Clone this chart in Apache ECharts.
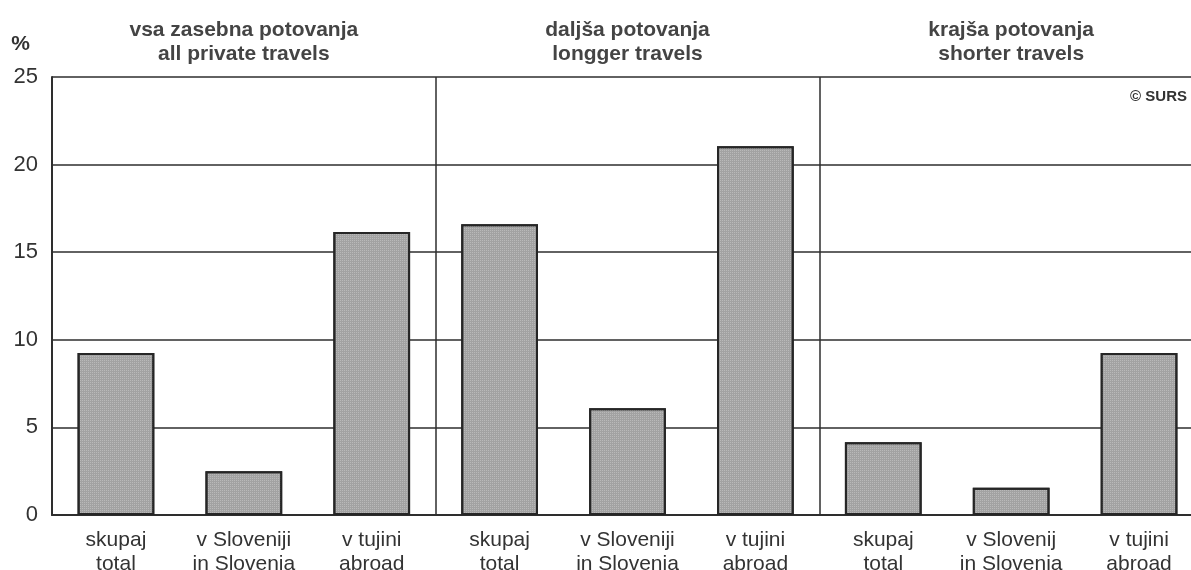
<!DOCTYPE html>
<html>
<head>
<meta charset="utf-8">
<script src="https://cdn.jsdelivr.net/npm/echarts@6/dist/echarts.min.js"></script>
<style>
  html, body { margin: 0; padding: 0; background: #fff; }
  #chart { width: 1191px; height: 570px; }
</style>
</head>
<body>
<div id="chart"></div>
<script>
// travel share by kind of trip (%)
const groups = ['vsa zasebna potovanja\nall private travels', 'daljša potovanja\nlongger travels', 'krajša potovanja\nshorter travels'];
const categories = [
    'skupaj\ntotal', 'v Sloveniji\nin Slovenia', 'v tujini\nabroad',
    'skupaj\ntotal', 'v Sloveniji\nin Slovenia', 'v tujini\nabroad',
    'skupaj\ntotal', 'v Slovenij\nin Slovenia', 'v tujini\nabroad'
];
const values = [9.25, 2.5, 16.15, 16.6, 6.1, 21.05, 4.15, 1.55, 9.25];
const yTicks = [0, 5, 10, 15, 20, 25];

const font = '"Liberation Sans", Arial, sans-serif';
const ink = '#2e2e2e';

const chart = echarts.init(document.getElementById('chart'), null, { renderer: 'canvas' });

chart.setOption({
    backgroundColor: '#ffffff',
    animation: false,
    textStyle: { fontFamily: font },
    grid: { left: 52, right: -12, top: 77, bottom: 55, outerBoundsMode: 'none', containLabel: false },
    xAxis: [{
        type: 'category',
        data: categories,
        axisLine: { lineStyle: { color: ink, width: 2 } },
        axisTick: { show: false },
        axisLabel: {
            interval: 0, margin: 13, color: '#333', fontSize: 21, lineHeight: 24,
            fontFamily: font
        },
        splitLine: {
            show: true,
            interval: (i) => i === 3 || i === 6,
            lineStyle: { color: ink, width: 1.5 }
        }
    }, {
        type: 'category',
        position: 'top',
        data: groups,
        axisLine: { show: false },
        axisTick: { show: false },
        axisLabel: {
            interval: 0, margin: 11, color: '#444', fontSize: 21, fontWeight: 'bold',
            lineHeight: 24, fontFamily: font
        }
    }],
    yAxis: {
        type: 'value',
        min: 0, max: 25, interval: 5,
        name: '%',
        nameLocation: 'end',
        nameGap: 22,
        nameTextStyle: { color: '#333', fontSize: 21, fontWeight: 'bold', align: 'right', padding: [0, 22, 0, 0], fontFamily: font },
        axisLine: { show: true, lineStyle: { color: ink, width: 2 } },
        axisTick: { show: false },
        axisLabel: {
            color: '#333', fontSize: 22, margin: 14, fontFamily: font,
            formatter: (v) => yTicks.includes(v) ? String(v) : ''
        },
        splitLine: { show: true, lineStyle: { color: ink, width: 1.5 } }
    },
    series: [{
        type: 'bar',
        data: values,
        barCategoryGap: '40%',
        itemStyle: {
            color: '#a2a2a2',
            borderColor: '#262626',
            borderWidth: 2,
            decal: {
                symbol: 'rect',
                symbolSize: 1,
                dashArrayX: [1, 1],
                dashArrayY: [1, 1],
                color: 'rgba(255,255,255,0.25)'
            }
        }
    }],
    graphic: [{
        type: 'text',
        right: 4,
        top: 89,
        style: { text: '© SURS', font: 'bold 15px ' + font, fill: '#333' }
    }]
});
</script>
</body>
</html>
